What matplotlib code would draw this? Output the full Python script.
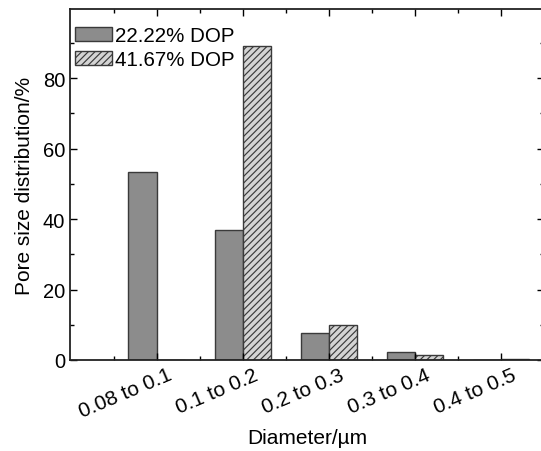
import matplotlib
matplotlib.use("Agg")
import matplotlib.pyplot as plt
import matplotlib.transforms as mtransforms
import numpy as np

plt.rcParams['font.family'] = ['Liberation Sans', 'DejaVu Sans']
plt.rcParams['hatch.linewidth'] = 0.85
plt.rcParams['hatch.color'] = '#333333'

categories = ["0.08 to 0.1", "0.1 to 0.2", "0.2 to 0.3", "0.3 to 0.4", "0.4 to 0.5"]
dop_22 = [53.3, 36.8, 7.8, 2.3, 0.0]
dop_41 = [0.0, 89.2, 9.8, 1.4, 0.4]
series_labels = ["22.22% DOP", "41.67% DOP"]

fig = plt.figure(figsize=(5.41, 4.52), dpi=100)
ax = fig.add_axes([70/541, 91/452, 474/541, 351/452])

x = np.arange(len(categories))
w = 0.33
ax.bar(x - w/2, dop_22, width=w, color='#8c8c8c', edgecolor='#3a3a3a', linewidth=1.0,
       label=series_labels[0])
ax.bar(x + w/2, dop_41, width=w, color='#d4d4d4', edgecolor='#3a3a3a', linewidth=1.0,
       hatch='/////', label=series_labels[1])

ax.set_xlim(-1.01, 4.5)
ax.set_ylim(0, 99.6)
ax.set_xticks(x)
ax.set_xticks(np.arange(-0.5, 4.6, 1.0), minor=True)
ax.set_yticks([0, 20, 40, 60, 80])
ax.set_yticks([10, 30, 50, 70, 90], minor=True)
ax.tick_params(axis='both', which='both', direction='in', top=True, right=True)
ax.tick_params(axis='both', which='major', length=5, width=1.0, labelsize=14.5)
ax.tick_params(axis='x', which='major', labelsize=15, pad=3.5)
ax.tick_params(axis='both', which='minor', length=3, width=1.0)
ax.set_xticklabels(categories, rotation=23, ha='right', va='top', rotation_mode='anchor', fontsize=15)
offset = mtransforms.ScaledTranslation(10/100, 0, fig.dpi_scale_trans)
for lab in ax.get_xticklabels():
    lab.set_transform(lab.get_transform() + offset)
for s in ax.spines.values():
    s.set_linewidth(1.3)
    s.set_color('#222222')

ax.set_xlabel("Diameter/\u00b5m", fontsize=15, labelpad=5)
ax.set_ylabel("Pore size distribution/%", fontsize=15, labelpad=6)

leg = ax.legend(loc='upper left', bbox_to_anchor=(-0.02, 0.992), frameon=False, fontsize=14.8,
                handlelength=1.8, handleheight=0.68, handletextpad=0.15, labelspacing=0.25,
                borderaxespad=0.3)

fig.savefig("out.png", dpi=100)
